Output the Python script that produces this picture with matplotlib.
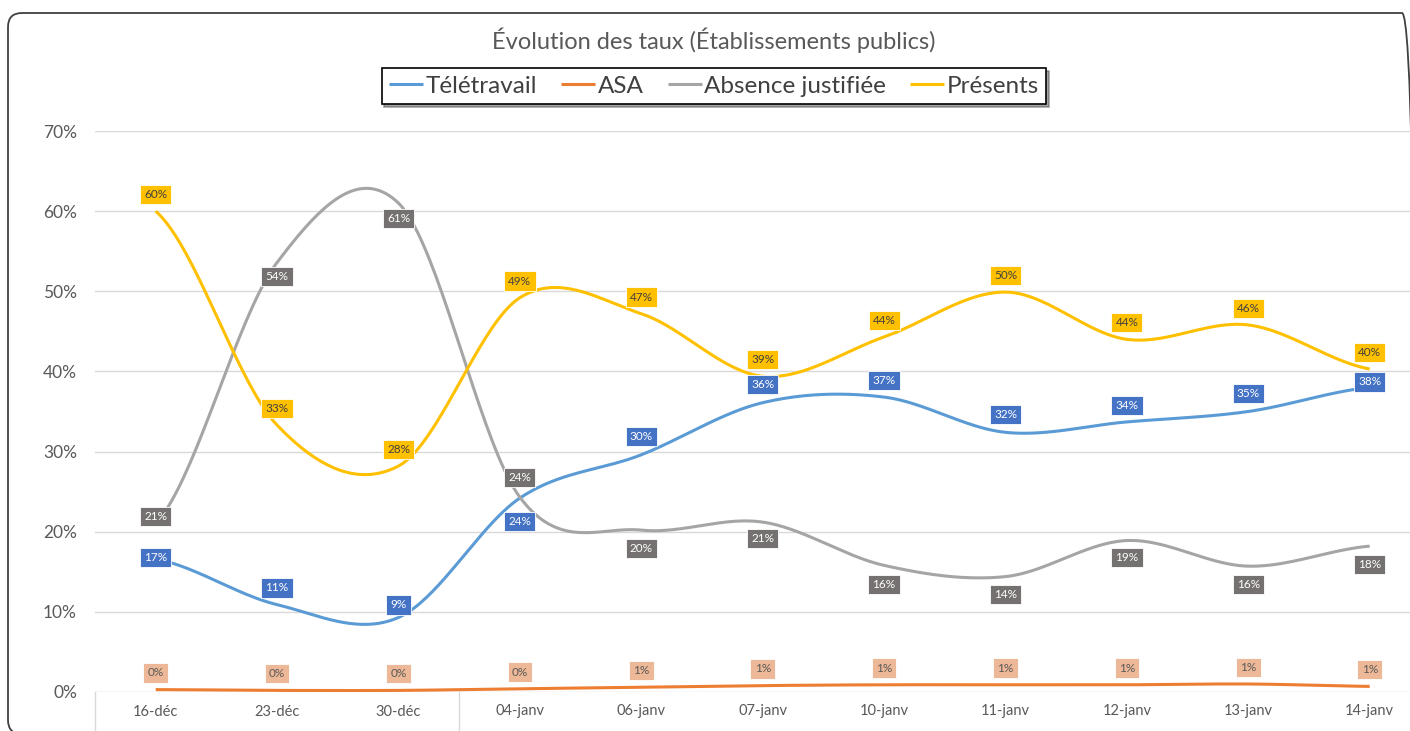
import numpy as np
import matplotlib
matplotlib.use("Agg")
import matplotlib.pyplot as plt
from matplotlib.patches import FancyBboxPatch

plt.rcParams['font.family'] = ['Lato', 'DejaVu Sans']

# chart data (percent)
dates = ["16-déc", "23-déc", "30-déc", "04-janv", "06-janv", "07-janv",
         "10-janv", "11-janv", "12-janv", "13-janv", "14-janv"]
teletravail = [16.6, 10.9, 9.3, 24.2, 29.6, 36.1, 36.8, 32.4, 33.7, 35.0, 38.0]
asa = [0.3, 0.2, 0.2, 0.4, 0.6, 0.8, 0.9, 0.9, 0.9, 1.0, 0.7]
absence = [21.0, 53.6, 61.0, 24.3, 20.2, 21.2, 15.8, 14.4, 18.9, 15.7, 18.2]
presents = [60.0, 33.3, 28.2, 49.2, 47.2, 39.4, 44.3, 49.9, 44.0, 45.8, 40.3]

# label vertical offsets in points (styling only)
dy_tele = [1, 12, 9, -17, 13, 13, 12, 13, 12, 13, 4]
dy_asa = [12] * 11
dy_abs = [5, -10, -11, 14, -13, -12, -14, -13, -12, -13, -13]
dy_pres = [12] * 11

W, H = 1410, 731


def smooth(y, n=40):
    """Excel-like smoothed line (Catmull-Rom through the points)"""
    y = np.asarray(y, float)
    m = np.empty_like(y)
    m[1:-1] = (y[2:] - y[:-2]) / 2
    m[0] = (y[1] - y[0]) / 2
    m[-1] = (y[-1] - y[-2]) / 2
    t = np.linspace(0, 1, n)
    h00 = 2 * t**3 - 3 * t**2 + 1
    h10 = t**3 - 2 * t**2 + t
    h01 = -2 * t**3 + 3 * t**2
    h11 = t**3 - t**2
    xs, ys = [], []
    for i in range(len(y) - 1):
        xs.append(i + t)
        ys.append(h00 * y[i] + h10 * m[i] + h01 * y[i + 1] + h11 * m[i + 1])
    return np.concatenate(xs), np.concatenate(ys)


fig = plt.figure(figsize=(W / 100, H / 100), dpi=100)

# rounded chart frame, in pixels (right and bottom edges run off the image)
frame = FancyBboxPatch((8, -3), 1416 - 8, (H - 13) + 3,
                       boxstyle="round,pad=0,rounding_size=14",
                       transform=None, fill=False,
                       edgecolor="#404040", linewidth=1.3, clip_on=False)
fig.patches.append(frame)

left, bottom = 95 / W, 1 - 692 / H
ax = fig.add_axes([left, bottom, 11 * 121.4 / W, (692 - 131) / H])
ax.set_xlim(-0.5, 10.5)
ax.set_ylim(0, 70)
for s in ax.spines.values():
    s.set_visible(False)
ax.set_yticks(range(0, 71, 10))
ax.set_yticklabels([f"{v}%" for v in range(0, 71, 10)])
ax.set_xticks(range(len(dates)))
ax.set_xticklabels(dates)
ax.tick_params(axis="y", length=0, pad=13, labelsize=12.5, labelcolor="#595959")
ax.tick_params(axis="x", length=0, pad=9, labelsize=10.5, labelcolor="#595959")
ax.grid(axis="y", color="#D9D9D9", linewidth=1)
ax.set_axisbelow(True)
# category separators under the axis
for xv in (-0.5, 2.5):
    ax.plot([xv, xv], [0, -6], color="#D9D9D9", lw=1, clip_on=False)

series = [
    ("Télétravail", teletravail, "#5B9BD5", "#4472C4", "white", dy_tele),
    ("ASA", asa, "#ED7D31", "#EDB897", "#595959", dy_asa),
    ("Absence justifiée", absence, "#A5A5A5", "#767171", "white", dy_abs),
    ("Présents", presents, "#FFC000", "#FFC000", "#404040", dy_pres),
]

for name, vals, col, box, tcol, dys in series:
    sx, sy = smooth(vals)
    ax.plot(sx, sy, color=col, lw=2.2, label=name, solid_capstyle="butt")

for name, vals, col, box, tcol, dys in series:
    for i, v in enumerate(vals):
        ax.annotate(f"{round(v):.0f}%", (i, v), xytext=(0, dys[i]),
                    textcoords="offset points", ha="center", va="center",
                    fontsize=8.5, color=tcol, zorder=5,
                    bbox=dict(boxstyle="square,pad=0.35", fc=box,
                              ec="white", lw=0.6))

fig.text(714 / W, 1 - 40 / H, "Évolution des taux (Établissements publics)",
         ha="center", va="center", fontsize=17, color="#595959")

leg = fig.legend(loc="center", bbox_to_anchor=(714 / W, 1 - 86 / H), ncol=4,
                 fontsize=17.5, frameon=True, fancybox=False, shadow=True,
                 edgecolor="black", handlelength=1.4, handletextpad=0.1,
                 columnspacing=1.0, borderpad=0.3)
leg.get_frame().set_linewidth(1.2)
for t in leg.get_texts():
    t.set_color("#404040")

fig.savefig("out.png", dpi=100)
